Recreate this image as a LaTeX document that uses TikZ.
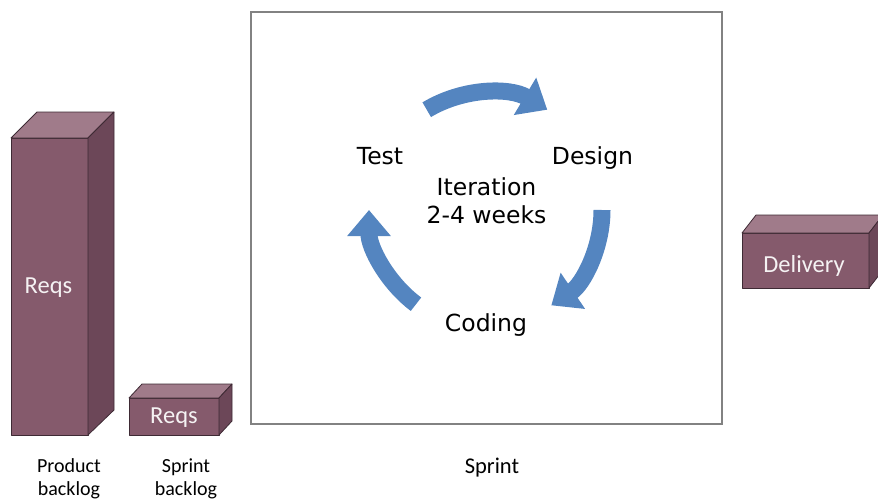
\documentclass[tikz,border=0pt]{standalone}
\usepackage{fontspec}
\setmainfont{Carlito}
\newfontfamily\cyclefont{DejaVu Sans}
\usetikzlibrary{arrows.meta}

\definecolor{boxfront}{RGB}{133,90,108}
\definecolor{boxtop}{RGB}{160,123,138}
\definecolor{boxside}{RGB}{108,71,88}
\definecolor{boxedge}{RGB}{62,42,52}
\definecolor{cycleblue}{RGB}{84,133,192}
\definecolor{framegray}{RGB}{130,130,130}

\begin{document}
\begin{tikzpicture}[x=1pt,y=-1pt,
  face/.style={draw=boxedge, line width=0.8pt, line join=round},
  boxlabel/.style={text=white!92!boxfront, anchor=base, font=\fontsize{24.5}{28}\selectfont},
  caption/.style={anchor=base, align=center, font=\fontsize{20}{23.5}\selectfont},
  phase/.style={anchor=base, font=\cyclefont\fontsize{23.5}{28}\selectfont},
  cyclearrow/.style={draw=cycleblue, line width=17pt, -{Triangle[width=42pt,length=26pt]}}]
\useasboundingbox (0,0) rectangle (878,499);
\clip (0,0) rectangle (878,499);

% product backlog: tall block
\filldraw[face, fill=boxfront] (11,138) -- (88,138) -- (88,435) -- (11,435) -- cycle; % front
\filldraw[face, fill=boxtop] (11,138) -- (37,112) -- (114,112) -- (88,138) -- cycle; % top
\filldraw[face, fill=boxside] (88,138) -- (114,112) -- (114,410) -- (88,435) -- cycle; % side
\node[boxlabel] (reqsbig) at (48.5,293) {Reqs};

% sprint backlog: flat block
\filldraw[face, fill=boxfront] (129,398) -- (219,398) -- (219,435) -- (129,435) -- cycle;
\filldraw[face, fill=boxtop] (129,398) -- (142,384) -- (232,384) -- (219,398) -- cycle;
\filldraw[face, fill=boxside] (219,398) -- (232,384) -- (232,421) -- (219,435) -- cycle;
\node[boxlabel] (reqssmall) at (174,423) {Reqs};

% delivery block
\filldraw[face, fill=boxfront] (742,233) -- (869,233) -- (869,288) -- (742,288) -- cycle;
\filldraw[face, fill=boxtop] (742,233) -- (756,215) -- (883,215) -- (869,233) -- cycle;
\filldraw[face, fill=boxside] (869,233) -- (883,215) -- (883,270) -- (869,288) -- cycle;
\node[boxlabel] (delivery) at (804,272) {Delivery};

% sprint frame
\draw[framegray, line width=1.5pt] (251,12) rectangle (722,424);

% iteration cycle
\coordinate (hub) at (487,210);
\draw[cyclearrow] (hub) ++(121:117pt) arc[start angle=121, end angle=59, radius=117pt];
\draw[cyclearrow] (hub) ++(0:115pt) arc[start angle=0, end angle=-56, radius=115pt];
\draw[cyclearrow] (hub) ++(233:118pt) arc[start angle=233, end angle=180, radius=118pt];

\node[phase] (test) at (380,164) {Test};
\node[phase] (design) at (592.5,164) {Design};
\node[phase] (iter) at (486.5,195) {Iteration};
\node[phase] (weeks) at (486.5,223) {2-4 weeks};
\node[phase] (coding) at (486,331) {Coding};

% captions
\node[caption] (pbl) at (69,495.5) {Product\\backlog};
\node[caption] (sbl) at (186,495.5) {Sprint\\backlog};
\node[anchor=base, font=\fontsize{22.5}{26}\selectfont] (sprint) at (492,473) {Sprint};
\end{tikzpicture}
\end{document}
